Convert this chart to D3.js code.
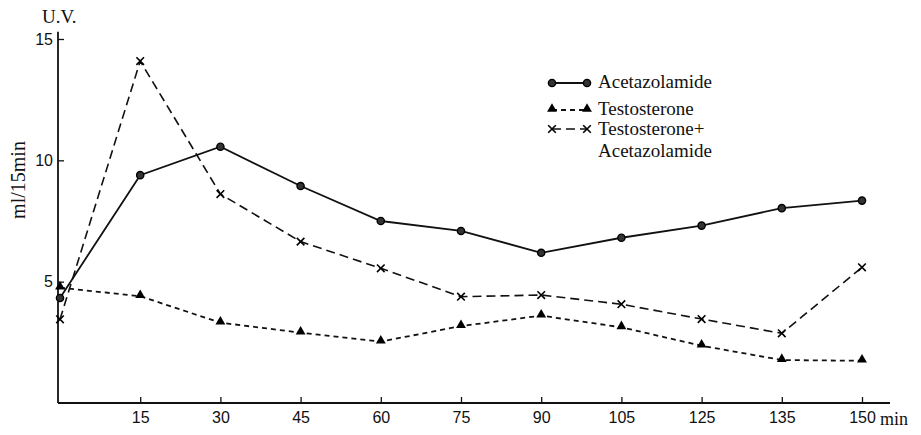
<!DOCTYPE html>
<html>
<head>
<meta charset="utf-8">
<script src="https://cdn.jsdelivr.net/npm/d3@7"></script>
<style>
  html, body { margin: 0; padding: 0; background: #fff; }
  svg { display: block; }
</style>
</head>
<body>
<svg id="chart" width="921" height="435"></svg>
<script>
// ---- data ----
const times = ["0", "15", "30", "45", "60", "75", "90", "105", "125", "135", "150"];
const acetazolamide = [4.33, 9.39, 10.56, 8.94, 7.50, 7.09, 6.19, 6.81, 7.31, 8.03, 8.34];
const testosterone = [4.75, 4.40, 3.31, 2.90, 2.53, 3.17, 3.60, 3.12, 2.36, 1.77, 1.74];
const testoAceta = [3.45, 14.09, 8.61, 6.65, 5.55, 4.38, 4.45, 4.07, 3.46, 2.87, 5.59];
const yTicks = [5, 10, 15];
const xTickLabels = ["15", "30", "45", "60", "75", "90", "105", "125", "135", "150"];
const legendLabels = [["Acetazolamide"], ["Testosterone"], ["Testosterone+", "Acetazolamide"]];

const svg = d3.select("#chart");
const serif = "'Liberation Serif', 'Times New Roman', serif";
const sans = "'Liberation Sans', Arial, sans-serif";

const x = d3.scalePoint().domain(times).range([60, 862]);
const y = d3.scaleLinear().domain([0, 15]).range([403, 39]);
const axisX0 = 58;

// axes
const gy = svg.append("g").attr("transform", `translate(${axisX0},0)`)
  .call(d3.axisLeft(y).tickValues(yTicks).tickSizeInner(-6).tickSizeOuter(0).tickPadding(5).tickFormat(d3.format("d")));
gy.select(".domain").remove();
gy.selectAll("text").attr("font-family", sans).attr("font-size", 16).attr("fill", "#111");
gy.selectAll("line").attr("stroke", "#111").attr("stroke-width", 1.3);

const gx = svg.append("g").attr("transform", `translate(0,${y(0)})`)
  .call(d3.axisBottom(x).tickValues(xTickLabels).tickSizeInner(-6).tickSizeOuter(0).tickPadding(9));
gx.select(".domain").remove();
gx.selectAll("text").attr("font-family", sans).attr("font-size", 16).attr("fill", "#111");
gx.selectAll("line").attr("stroke", "#111").attr("stroke-width", 1.3);

// axis lines
svg.append("line").attr("x1", axisX0).attr("x2", axisX0).attr("y1", y(0)).attr("y2", y(15.3))
  .attr("stroke", "#111").attr("stroke-width", 1.8);
svg.append("line").attr("x1", axisX0).attr("x2", 890).attr("y1", y(0)).attr("y2", y(0))
  .attr("stroke", "#111").attr("stroke-width", 1.8);

// axis titles
svg.append("text").attr("x", 42).attr("y", 23).attr("font-family", serif).attr("font-size", 19)
  .attr("fill", "#111").text("U.V.");
svg.append("text").attr("transform", "translate(25,180) rotate(-90)").attr("text-anchor", "middle")
  .attr("font-family", serif).attr("font-size", 20).attr("fill", "#111").text("ml/15min");
svg.append("text").attr("x", 880).attr("y", 425).attr("font-family", serif).attr("font-size", 18)
  .attr("fill", "#111").text("min");

// series
const line = d3.line().x((d, i) => x(times[i])).y(d => y(d));

function marker(g, type, cx, cy) {
  if (type === "circle") {
    g.append("circle").attr("cx", cx).attr("cy", cy).attr("r", 3.6)
      .attr("fill", "#333").attr("stroke", "#000").attr("stroke-width", 1.4);
  } else if (type === "triangle") {
    g.append("path").attr("d", d3.symbol().type(d3.symbolTriangle).size(42)())
      .attr("transform", `translate(${cx},${cy - 1})`).attr("fill", "#000");
  } else {
    const r = 3.8;
    g.append("path")
      .attr("d", `M${cx - r},${cy - r}L${cx + r},${cy + r}M${cx - r},${cy + r}L${cx + r},${cy - r}`)
      .attr("fill", "none").attr("stroke", "#000").attr("stroke-width", 1.6);
  }
}

const series = [
  { values: acetazolamide, dash: null, width: 1.8, type: "circle" },
  { values: testosterone, dash: "5,4", width: 1.8, type: "triangle" },
  { values: testoAceta, dash: "9,5", width: 1.6, type: "cross" }
];

series.forEach(s => {
  svg.append("path").attr("d", line(s.values)).attr("fill", "none")
    .attr("stroke", "#111").attr("stroke-width", s.width)
    .attr("stroke-dasharray", s.dash);
  const g = svg.append("g");
  s.values.forEach((v, i) => marker(g, s.type, x(times[i]), y(v)));
});

// legend
const legendRows = [83, 110, 129];
const legendTextY = [[88], [115], [135, 157]];
series.forEach((s, k) => {
  const ly = legendRows[k];
  svg.append("line").attr("x1", 552).attr("x2", 587).attr("y1", ly).attr("y2", ly)
    .attr("stroke", "#111").attr("stroke-width", s.width).attr("stroke-dasharray", s.dash);
  const g = svg.append("g");
  marker(g, s.type, 552, ly);
  marker(g, s.type, 587, ly);
  legendLabels[k].forEach((t, j) => {
    svg.append("text").attr("x", 598).attr("y", legendTextY[k][j])
      .attr("font-family", serif).attr("font-size", 19).attr("fill", "#111").text(t);
  });
});
</script>
</body>
</html>
